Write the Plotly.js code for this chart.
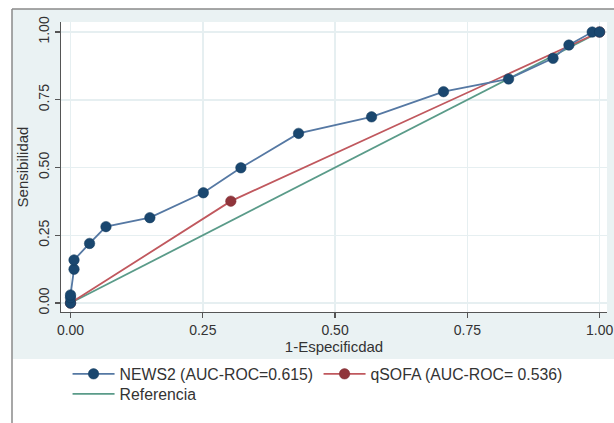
<!DOCTYPE html>
<html>
<head>
<meta charset="utf-8">
<script src="https://cdn.plot.ly/plotly-3.0.1.min.js"></script>
<style>html,body{margin:0;padding:0;background:#fff;}#chart{width:614px;height:423px;}</style>
</head>
<body>
<div id="chart"></div>
<script>
// NEWS2 ROC points (1-Especificidad, Sensibilidad)
var news2X = [0, 0, 0, 0.0066, 0.0066, 0.036, 0.067, 0.150, 0.251, 0.322, 0.431, 0.569, 0.705, 0.828, 0.912, 0.942, 0.986, 1];
var news2Y = [0, 0.02, 0.03, 0.125, 0.159, 0.220, 0.282, 0.315, 0.407, 0.499, 0.626, 0.687, 0.780, 0.827, 0.903, 0.952, 1, 1];
// qSOFA ROC points
var qsofaX = [0, 0.303, 1];
var qsofaY = [0, 0.376, 1];
// Reference diagonal
var refX = [0, 1];
var refY = [0, 1];
var tickVals = [0, 0.25, 0.5, 0.75, 1];
var news2Name = 'NEWS2 (AUC-ROC=0.615)';
var qsofaName = 'qSOFA (AUC-ROC= 0.536)';
var refName = 'Referencia';

var font = 'Liberation Sans, Arial, sans-serif';
var traces = [
  {x: refX, y: refY, mode: 'lines', name: refName, legend: 'legend2',
   line: {color: '#5a9b89', width: 1.8}},
  {x: qsofaX, y: qsofaY, mode: 'lines+markers', name: qsofaName,
   line: {color: '#c0585e', width: 1.8},
   marker: {color: '#90353b', size: 10.5, line: {color: '#7a2a30', width: 0.5}}},
  {x: news2X, y: news2Y, mode: 'lines+markers', name: news2Name,
   line: {color: '#5578a3', width: 1.8},
   marker: {color: '#1a476f', size: 10.5, line: {color: '#133a5c', width: 0.5}}}
];

var layout = {
  width: 614, height: 423,
  margin: {l: 61, r: 7, t: 22, b: 111},
  paper_bgcolor: '#ffffff',
  plot_bgcolor: '#ffffff',
  font: {family: font, size: 14, color: '#333'},
  showlegend: true,
  xaxis: {
    range: [-0.018, 1.014], tickvals: tickVals, tickformat: '.2f',
    showgrid: true, gridcolor: '#e6eff1', gridwidth: 1.5,
    zeroline: false, showline: true, linecolor: '#555', linewidth: 1.2,
    ticks: 'outside', ticklen: 5, tickcolor: '#555', tickwidth: 1.2,
    tickfont: {size: 14, color: '#333'},
    title: {text: '1-Especificdad', font: {size: 15, color: '#333'}, standoff: 3}
  },
  yaxis: {
    range: [-0.033, 1.037], tickvals: tickVals, tickformat: '.2f', tickangle: -90,
    showgrid: true, gridcolor: '#e6eff1', gridwidth: 1.5,
    zeroline: false, showline: true, linecolor: '#555', linewidth: 1.2,
    ticks: 'outside', ticklen: 5, tickcolor: '#555', tickwidth: 1.2,
    tickfont: {size: 14, color: '#333'},
    title: {text: 'Sensibilidad', font: {size: 15, color: '#333'}, standoff: 4}
  },
  legend: {
    orientation: 'h', x: 0.012, xanchor: 'left', y: -0.214, yanchor: 'middle',
    traceorder: 'reversed', bgcolor: 'rgba(0,0,0,0)',
    entrywidth: 194, entrywidthmode: 'pixels', itemwidth: 42,
    font: {size: 15.8, color: '#333'}
  },
  legend2: {
    orientation: 'h', x: 0.012, xanchor: 'left', y: -0.283, yanchor: 'middle',
    bgcolor: 'rgba(0,0,0,0)', itemwidth: 42,
    font: {size: 15.8, color: '#333'}
  },
  shapes: [
    {type: 'rect', xref: 'paper', yref: 'paper', layer: 'below',
     x0: -49/546, x1: 553/546, y0: -47/290, y1: 303/290,
     fillcolor: '#eaf2f3', line: {width: 0}},
    {type: 'rect', xref: 'paper', yref: 'paper', layer: 'below',
     x0: 0, x1: 1, y0: 0, y1: 1, fillcolor: '#ffffff', line: {width: 0}},
    {type: 'line', xref: 'paper', yref: 'paper', layer: 'above',
     x0: -49/546, x1: -49/546, y0: -111/290, y1: 303/290,
     line: {color: '#8a8a8a', width: 1.5}},
    {type: 'line', xref: 'paper', yref: 'paper', layer: 'above',
     x0: -49/546, x1: 553/546, y0: 303/290, y1: 303/290,
     line: {color: '#8a8a8a', width: 1.5}}
  ]
};

Plotly.newPlot('chart', traces, layout, {staticPlot: true, displayModeBar: false});
</script>
</body>
</html>
